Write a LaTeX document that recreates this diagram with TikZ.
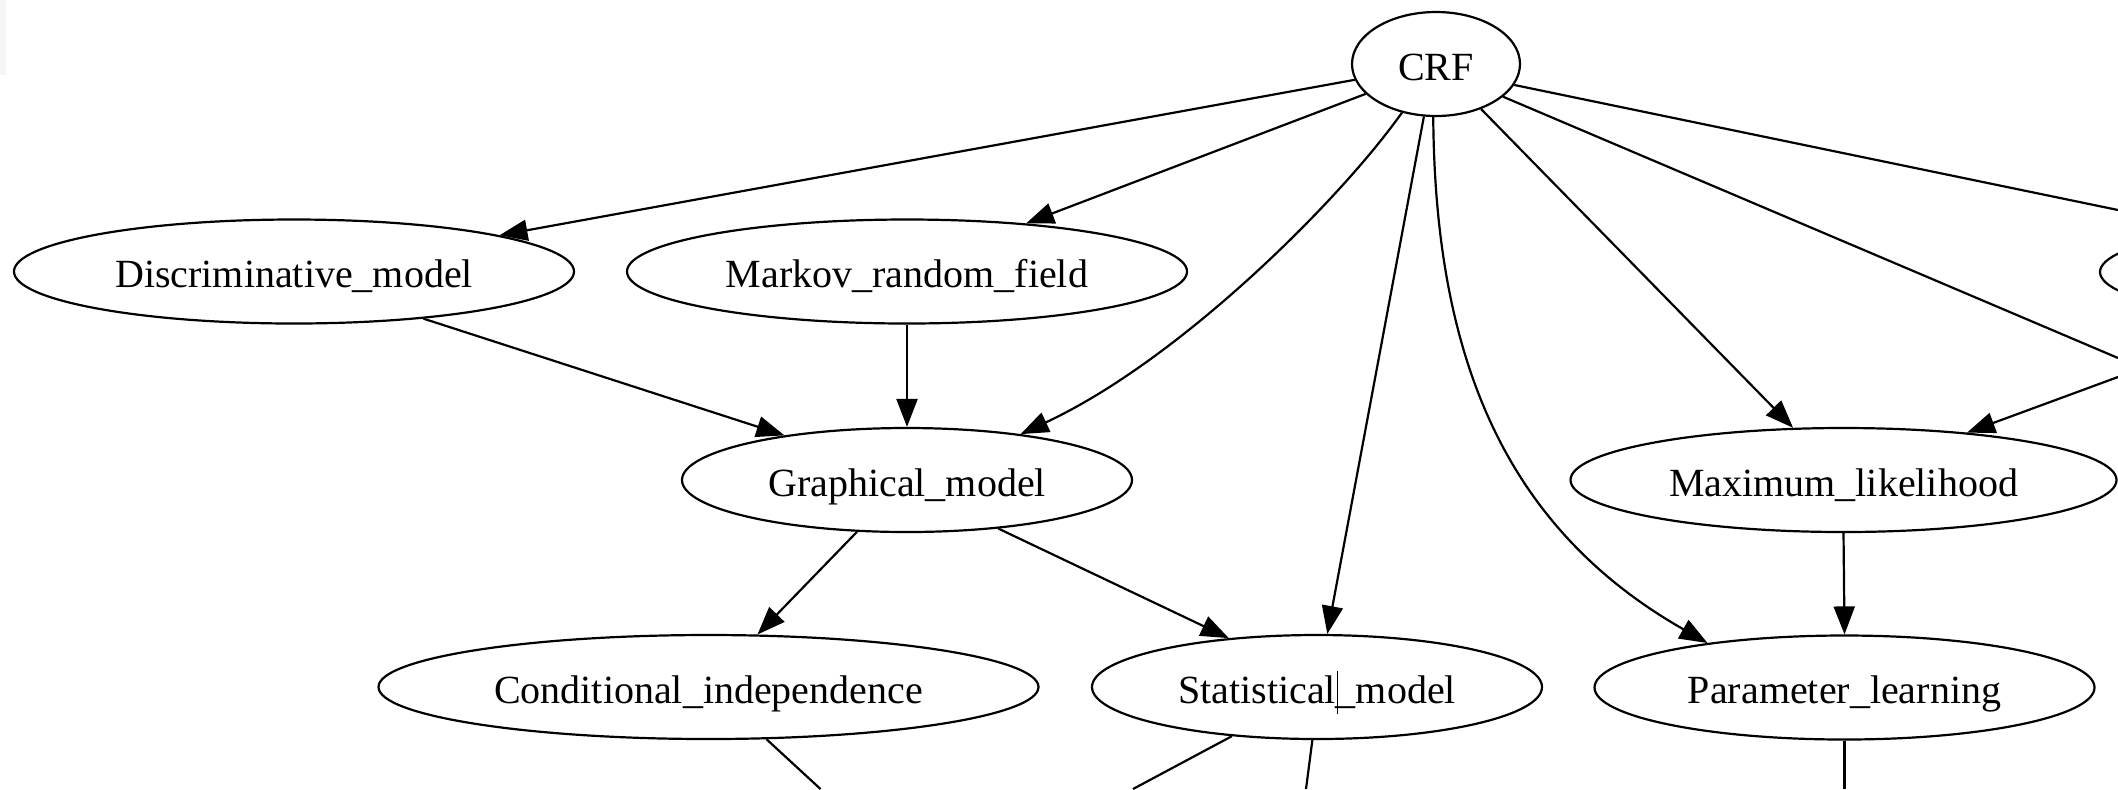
\documentclass[tikz,border=0pt]{standalone}
\usepackage{fontspec}
\setmainfont{Liberation Serif}
\usetikzlibrary{arrows.meta,shapes.geometric}
\begin{document}
\begin{tikzpicture}[x=0.5pt,y=-0.5pt,
  concept/.style={draw, ellipse, line width=1.1pt, inner sep=0pt,
    minimum height=52pt, text height=18pt, text depth=2pt,
    font=\fontsize{20}{24}\selectfont},
  link/.style={line width=1.1pt, -{Triangle[length=14pt,width=10.5pt]}},
  stub/.style={line width=1.1pt}]
\useasboundingbox (0,0) rectangle (2118,789);
\clip (0,0) rectangle (2118,789);
\fill[black!4] (0,0) rectangle (6,75);

% concepts
\node[concept, minimum width=84pt]  (crf)    at (1436,64)    {CRF};
\node[concept, minimum width=280pt] (disc)   at (294,271.5)  {Discriminative\_model};
\node[concept, minimum width=280pt] (markov) at (907,271.5)  {Markov\_random\_field};
\node[concept, minimum width=280pt] (side)   at (2380,272)   {};
\node[concept, minimum width=225pt] (graph)  at (907,480)    {Graphical\_model};
\node[concept, minimum width=273pt] (maxl)   at (1843.5,480) {Maximum\_likelihood};
\node[concept, minimum width=330pt] (condi)  at (708.5,687)  {Conditional\_independence};
\node[concept, minimum width=225pt] (stat)   at (1317,687)   {Statistical\_model};
\node[concept, minimum width=250pt] (param)  at (1844.5,687.5) {Parameter\_learning};

% text cursor inside the label
\draw[line width=0.5pt] (1337,671) -- (1337,714);

% loose ends leaving the frame
\coordinate (eastA) at (2118,210);
\coordinate (eastB) at (2118,358);
\coordinate (eastC) at (2118,377);
\coordinate (downA) at (820.5,789);
\coordinate (downB) at (1133,789);
\coordinate (downC) at (1306,789);
\coordinate (downD) at (1844.5,789);

% edges from CRF
\draw[link] (crf.191.6) -- (disc.10.6);
\draw[link] (crf.203.3) -- (markov.22.2);
\draw[link] (crf.235.8) .. controls (1340,200) and (1180,360) .. (graph.22.6);
\draw[link] (crf.257.2) -- (stat.79.5);
\draw[link] (crf.267) .. controls (1435,350) and (1500,525) .. (param.162.1);
\draw[link] (crf.315) -- (maxl.134.2);
\draw[stub] (crf.334.4) -- (eastB);
\draw[stub] (crf.345.5) -- (eastA);

% remaining edges
\draw[link] (eastC) -- (maxl.21.5);
\draw[link] (disc.340.8) -- (graph.160.7);
\draw[link] (markov.south) -- (graph.north);
\draw[link] (graph.226.7) -- (condi.47.5);
\draw[link] (graph.332.7) -- (stat.151.9);
\draw[link] (maxl.south) -- (param.north);

% edges continuing below
\draw[stub] (condi.318.9) -- (downA);
\draw[stub] (stat.210.2) -- (downB);
\draw[stub] (stat.265) -- (downC);
\draw[stub] (param.south) -- (downD);
\end{tikzpicture}
\end{document}
